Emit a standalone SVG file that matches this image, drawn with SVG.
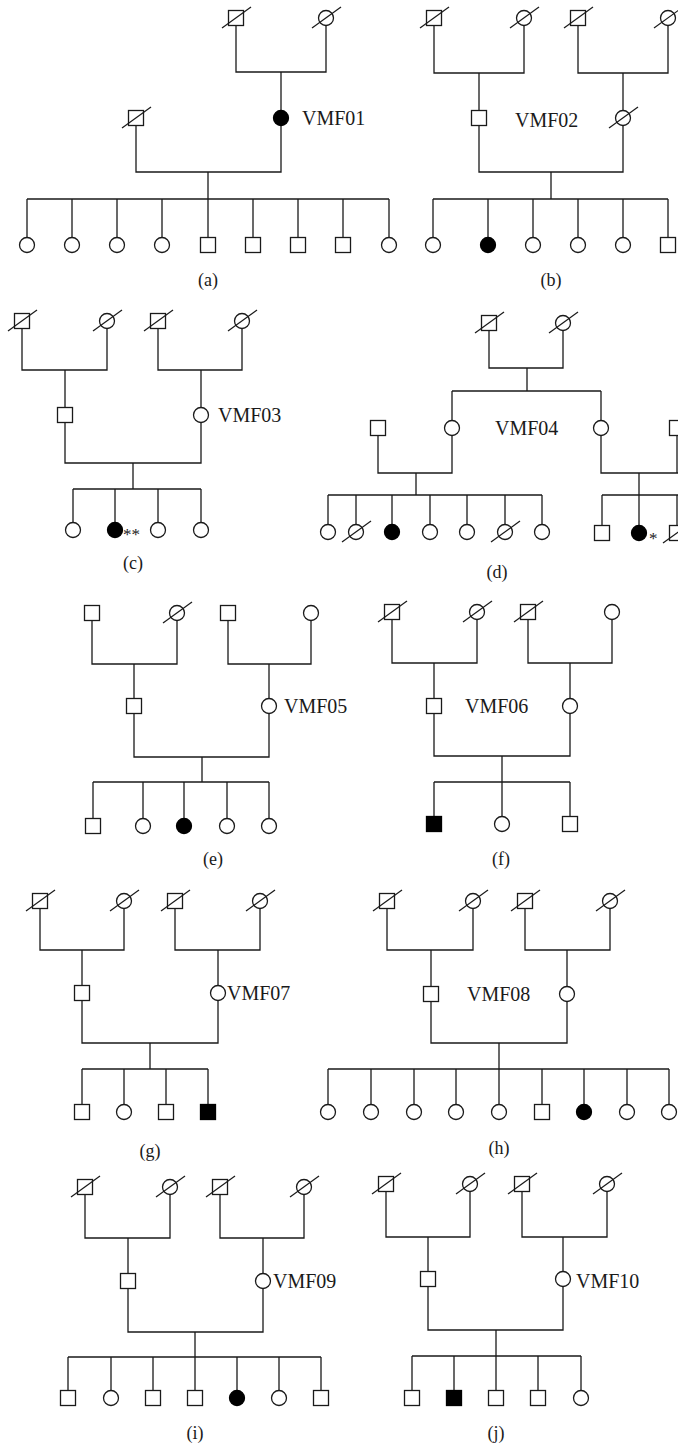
<svg xmlns="http://www.w3.org/2000/svg" xmlns:xlink="http://www.w3.org/1999/xlink" width="678" height="1447" viewBox="0 0 678 1447">
<style>
.ln{fill:none;stroke:#1a1a1a;stroke-width:1.3}
.sym{fill:#fff;stroke:#1a1a1a;stroke-width:1.3}
.aff{fill:#000;stroke:#000;stroke-width:1.3}
.sl{stroke:#1a1a1a;stroke-width:1.2}
.lbl{font-family:"Liberation Serif","Times New Roman",serif;font-size:20px;fill:#1a1a1a}
.cap{font-family:"Liberation Serif","Times New Roman",serif;font-size:18px;fill:#1a1a1a;text-anchor:middle}
.ast{font-family:"Liberation Serif","Times New Roman",serif;font-size:17px;fill:#1a1a1a}
</style>
<defs>
<g id="m"><rect class="sym" x="-7.5" y="-7.5" width="15" height="15"/></g>
<g id="f"><circle class="sym" r="7.5"/></g>
<g id="ma"><rect class="aff" x="-7.5" y="-7.5" width="15" height="15"/></g>
<g id="fa"><circle class="aff" r="7.5"/></g>
<g id="md"><rect class="sym" x="-7.5" y="-7.5" width="15" height="15"/><line class="sl" x1="-14" y1="10" x2="15" y2="-11"/></g>
<g id="fd"><circle class="sym" r="7.5"/><line class="sl" x1="-14" y1="10" x2="15" y2="-11"/></g>
</defs>
<rect width="678" height="1447" fill="#fff"/>
<g id="connectors" class="ln">
<path d="M236,25.5V72H326V25.5M281,72V110.5M136,125.5V172H281V125.5M208,172V199M27,199H389M27,199V237.5M72,199V237.5M117,199V237.5M162,199V237.5M208,199V237.5M253,199V237.5M298,199V237.5M343,199V237.5M389,199V237.5"/>
<path d="M434,25.5V73H524V25.5M479,73V110.5M578,25.5V73H668V25.5M623,73V110.5M479,125.5V172H623V125.5M551,172V199M433,199H668M433,199V237.5M488,199V237.5M533,199V237.5M578,199V237.5M623,199V237.5M668,199V237.5"/>
<path d="M22,328.5V370H107V328.5M65,370V407.5M158,328.5V370H242V328.5M201,370V407.5M65,422.5V463H201V422.5M133,463V489M73,489H201M73,489V522.5M115,489V522.5M158,489V522.5M201,489V522.5"/>
<path d="M489,330.5V368H563V330.5M527,368V391M452,391H601M452,391V420.5M601,391V420.5M378,435.5V473H452V435.5M416,473V495M328,495H542M328,495V524.5M356,495V524.5M392,495V524.5M430,495V524.5M467,495V524.5M505,495V524.5M542,495V524.5M601,435.5V473H678M677,435.5V473M639,473V495M602,495H678M602,495V525.5M639,495V525.5M677,495V525.5"/>
<path d="M92,620.5V664H177V620.5M134,664V698.5M228,620.5V664H311V620.5M269,664V698.5M134,713.5V757H269V713.5M202,757V782M93,782H269M93,782V818.5M143,782V818.5M184,782V818.5M227,782V818.5M269,782V818.5"/>
<path d="M392,619.5V663H477V619.5M434,663V698.5M528,619.5V663H612V619.5M570,663V698.5M434,713.5V756H570V713.5M502,756V782M434,782H570M434,782V816.5M502,782V816.5M570,782V816.5"/>
<path d="M40,908.5V950H124V908.5M82,950V985.5M175,908.5V950H260V908.5M218,950V985.5M82,1000.5V1043H218V1000.5M150,1043V1069M82,1069H208M82,1069V1104.5M124,1069V1104.5M166,1069V1104.5M208,1069V1104.5"/>
<path d="M387,908.5V950H473V908.5M431,950V986.5M525,908.5V950H610V908.5M567,950V986.5M431,1001.5V1043H567V1001.5M499,1043V1069M328,1069H669M328,1069V1104.5M371,1069V1104.5M414,1069V1104.5M456,1069V1104.5M499,1069V1104.5M542,1069V1104.5M584,1069V1104.5M627,1069V1104.5M669,1069V1104.5"/>
<path d="M85,1194.5V1238H170V1194.5M128,1238V1273.5M220,1194.5V1238H304V1194.5M263,1238V1273.5M128,1288.5V1332H263V1288.5M195,1332V1357M68,1357H321M68,1357V1390.5M111,1357V1390.5M153,1357V1390.5M195,1357V1390.5M237,1357V1390.5M279,1357V1390.5M321,1357V1390.5"/>
<path d="M386,1191.5V1237H470V1191.5M428,1237V1271.5M522,1191.5V1237H607V1191.5M563,1237V1271.5M428,1286.5V1330H563V1286.5M496,1330V1356M412,1356H581M412,1356V1390.5M454,1356V1390.5M496,1356V1390.5M538,1356V1390.5M581,1356V1390.5"/>
</g>
<g id="a-gf"><use xlink:href="#md" x="236" y="18"/></g>
<g id="a-gm"><use xlink:href="#fd" x="326" y="18"/></g>
<g id="a-vmf01"><use xlink:href="#fa" x="281" y="118"/><text class="lbl" x="302" y="125">VMF01</text></g>
<g id="a-husband"><use xlink:href="#md" x="136" y="118"/></g>
<g id="a-c1"><use xlink:href="#f" x="27" y="245"/></g>
<g id="a-c2"><use xlink:href="#f" x="72" y="245"/></g>
<g id="a-c3"><use xlink:href="#f" x="117" y="245"/></g>
<g id="a-c4"><use xlink:href="#f" x="162" y="245"/></g>
<g id="a-c5"><use xlink:href="#m" x="208" y="245"/></g>
<g id="a-c6"><use xlink:href="#m" x="253" y="245"/></g>
<g id="a-c7"><use xlink:href="#m" x="298" y="245"/></g>
<g id="a-c8"><use xlink:href="#m" x="343" y="245"/></g>
<g id="a-c9"><use xlink:href="#f" x="389" y="245"/></g>
<text class="cap" x="208" y="286">(a)</text>
<g id="b-pgf"><use xlink:href="#md" x="434" y="18"/></g>
<g id="b-pgm"><use xlink:href="#fd" x="524" y="18"/></g>
<g id="b-mgf"><use xlink:href="#md" x="578" y="18"/></g>
<g id="b-mgm"><use xlink:href="#fd" x="668" y="18"/></g>
<g id="b-father"><use xlink:href="#m" x="479" y="118"/></g>
<g id="b-mother"><use xlink:href="#fd" x="623" y="118"/></g>
<text id="b-label" class="lbl" x="515" y="127">VMF02</text>
<g id="b-c1"><use xlink:href="#f" x="433" y="245"/></g>
<g id="b-c2"><use xlink:href="#fa" x="488" y="245"/></g>
<g id="b-c3"><use xlink:href="#f" x="533" y="245"/></g>
<g id="b-c4"><use xlink:href="#f" x="578" y="245"/></g>
<g id="b-c5"><use xlink:href="#f" x="623" y="245"/></g>
<g id="b-c6"><use xlink:href="#m" x="668" y="245"/></g>
<text class="cap" x="551" y="286">(b)</text>
<g id="c-pgf"><use xlink:href="#md" x="22" y="321"/></g>
<g id="c-pgm"><use xlink:href="#fd" x="107" y="321"/></g>
<g id="c-mgf"><use xlink:href="#md" x="158" y="321"/></g>
<g id="c-mgm"><use xlink:href="#fd" x="242" y="321"/></g>
<g id="c-father"><use xlink:href="#m" x="65" y="415"/></g>
<g id="c-mother"><use xlink:href="#f" x="201" y="415"/><text class="lbl" x="218" y="422">VMF03</text></g>
<g id="c-c1"><use xlink:href="#f" x="73" y="530"/></g>
<g id="c-c2"><use xlink:href="#fa" x="115" y="530"/><text class="ast" x="123" y="540">**</text></g>
<g id="c-c3"><use xlink:href="#f" x="158" y="530"/></g>
<g id="c-c4"><use xlink:href="#f" x="201" y="530"/></g>
<text class="cap" x="133" y="569">(c)</text>
<g id="d-gf"><use xlink:href="#md" x="489" y="323"/></g>
<g id="d-gm"><use xlink:href="#fd" x="563" y="323"/></g>
<g id="d-d1"><use xlink:href="#f" x="452" y="428"/></g>
<g id="d-d2"><use xlink:href="#f" x="601" y="428"/></g>
<g id="d-h1"><use xlink:href="#m" x="378" y="428"/></g>
<g id="d-h2"><use xlink:href="#m" x="677" y="428"/></g>
<text id="d-label" class="lbl" x="495" y="435">VMF04</text>
<g id="d-c1"><use xlink:href="#f" x="328" y="532"/></g>
<g id="d-c2"><use xlink:href="#fd" x="356" y="532"/></g>
<g id="d-c3"><use xlink:href="#fa" x="392" y="532"/></g>
<g id="d-c4"><use xlink:href="#f" x="430" y="532"/></g>
<g id="d-c5"><use xlink:href="#f" x="467" y="532"/></g>
<g id="d-c6"><use xlink:href="#fd" x="505" y="532"/></g>
<g id="d-c7"><use xlink:href="#f" x="542" y="532"/></g>
<g id="d-c8"><use xlink:href="#m" x="602" y="533"/></g>
<g id="d-c9"><use xlink:href="#fa" x="639" y="533"/><text class="ast" x="649" y="544">*</text></g>
<g id="d-c10"><use xlink:href="#md" x="677" y="533"/></g>
<text class="cap" x="497" y="578">(d)</text>
<g id="e-pgf"><use xlink:href="#m" x="92" y="613"/></g>
<g id="e-pgm"><use xlink:href="#fd" x="177" y="613"/></g>
<g id="e-mgf"><use xlink:href="#m" x="228" y="613"/></g>
<g id="e-mgm"><use xlink:href="#f" x="311" y="613"/></g>
<g id="e-father"><use xlink:href="#m" x="134" y="706"/></g>
<g id="e-mother"><use xlink:href="#f" x="269" y="706"/><text class="lbl" x="284" y="713">VMF05</text></g>
<g id="e-c1"><use xlink:href="#m" x="93" y="826"/></g>
<g id="e-c2"><use xlink:href="#f" x="143" y="826"/></g>
<g id="e-c3"><use xlink:href="#fa" x="184" y="826"/></g>
<g id="e-c4"><use xlink:href="#f" x="227" y="826"/></g>
<g id="e-c5"><use xlink:href="#f" x="269" y="826"/></g>
<text class="cap" x="213" y="865">(e)</text>
<g id="f-pgf"><use xlink:href="#md" x="392" y="612"/></g>
<g id="f-pgm"><use xlink:href="#fd" x="477" y="612"/></g>
<g id="f-mgf"><use xlink:href="#md" x="528" y="612"/></g>
<g id="f-mgm"><use xlink:href="#f" x="612" y="612"/></g>
<g id="f-father"><use xlink:href="#m" x="434" y="706"/></g>
<g id="f-mother"><use xlink:href="#f" x="570" y="706"/></g>
<text id="f-label" class="lbl" x="465" y="713">VMF06</text>
<g id="f-c1"><use xlink:href="#ma" x="434" y="824"/></g>
<g id="f-c2"><use xlink:href="#f" x="502" y="824"/></g>
<g id="f-c3"><use xlink:href="#m" x="570" y="824"/></g>
<text class="cap" x="501" y="865">(f)</text>
<g id="g-pgf"><use xlink:href="#md" x="40" y="901"/></g>
<g id="g-pgm"><use xlink:href="#fd" x="124" y="901"/></g>
<g id="g-mgf"><use xlink:href="#md" x="175" y="901"/></g>
<g id="g-mgm"><use xlink:href="#fd" x="260" y="901"/></g>
<g id="g-father"><use xlink:href="#m" x="82" y="993"/></g>
<g id="g-mother"><use xlink:href="#f" x="218" y="993"/><text class="lbl" x="227" y="1000">VMF07</text></g>
<g id="g-c1"><use xlink:href="#m" x="82" y="1112"/></g>
<g id="g-c2"><use xlink:href="#f" x="124" y="1112"/></g>
<g id="g-c3"><use xlink:href="#m" x="166" y="1112"/></g>
<g id="g-c4"><use xlink:href="#ma" x="208" y="1112"/></g>
<text class="cap" x="150" y="1157">(g)</text>
<g id="h-pgf"><use xlink:href="#md" x="387" y="901"/></g>
<g id="h-pgm"><use xlink:href="#fd" x="473" y="901"/></g>
<g id="h-mgf"><use xlink:href="#md" x="525" y="901"/></g>
<g id="h-mgm"><use xlink:href="#fd" x="610" y="901"/></g>
<g id="h-father"><use xlink:href="#m" x="431" y="994"/></g>
<g id="h-mother"><use xlink:href="#f" x="567" y="994"/></g>
<text id="h-label" class="lbl" x="467" y="1001">VMF08</text>
<g id="h-c1"><use xlink:href="#f" x="328" y="1112"/></g>
<g id="h-c2"><use xlink:href="#f" x="371" y="1112"/></g>
<g id="h-c3"><use xlink:href="#f" x="414" y="1112"/></g>
<g id="h-c4"><use xlink:href="#f" x="456" y="1112"/></g>
<g id="h-c5"><use xlink:href="#f" x="499" y="1112"/></g>
<g id="h-c6"><use xlink:href="#m" x="542" y="1112"/></g>
<g id="h-c7"><use xlink:href="#fa" x="584" y="1112"/></g>
<g id="h-c8"><use xlink:href="#f" x="627" y="1112"/></g>
<g id="h-c9"><use xlink:href="#f" x="669" y="1112"/></g>
<text class="cap" x="499" y="1154">(h)</text>
<g id="i-pgf"><use xlink:href="#md" x="85" y="1187"/></g>
<g id="i-pgm"><use xlink:href="#fd" x="170" y="1187"/></g>
<g id="i-mgf"><use xlink:href="#md" x="220" y="1187"/></g>
<g id="i-mgm"><use xlink:href="#fd" x="304" y="1187"/></g>
<g id="i-father"><use xlink:href="#m" x="128" y="1281"/></g>
<g id="i-mother"><use xlink:href="#f" x="263" y="1281"/><text class="lbl" x="273" y="1288">VMF09</text></g>
<g id="i-c1"><use xlink:href="#m" x="68" y="1398"/></g>
<g id="i-c2"><use xlink:href="#f" x="111" y="1398"/></g>
<g id="i-c3"><use xlink:href="#m" x="153" y="1398"/></g>
<g id="i-c4"><use xlink:href="#m" x="195" y="1398"/></g>
<g id="i-c5"><use xlink:href="#fa" x="237" y="1398"/></g>
<g id="i-c6"><use xlink:href="#f" x="279" y="1398"/></g>
<g id="i-c7"><use xlink:href="#m" x="321" y="1398"/></g>
<text class="cap" x="195" y="1439">(i)</text>
<g id="j-pgf"><use xlink:href="#md" x="386" y="1184"/></g>
<g id="j-pgm"><use xlink:href="#fd" x="470" y="1184"/></g>
<g id="j-mgf"><use xlink:href="#md" x="522" y="1184"/></g>
<g id="j-mgm"><use xlink:href="#fd" x="607" y="1184"/></g>
<g id="j-father"><use xlink:href="#m" x="428" y="1279"/></g>
<g id="j-mother"><use xlink:href="#f" x="563" y="1279"/><text class="lbl" x="576" y="1288">VMF10</text></g>
<g id="j-c1"><use xlink:href="#m" x="412" y="1398"/></g>
<g id="j-c2"><use xlink:href="#ma" x="454" y="1398"/></g>
<g id="j-c3"><use xlink:href="#m" x="496" y="1398"/></g>
<g id="j-c4"><use xlink:href="#m" x="538" y="1398"/></g>
<g id="j-c5"><use xlink:href="#f" x="581" y="1398"/></g>
<text class="cap" x="496" y="1439">(j)</text>
</svg>
